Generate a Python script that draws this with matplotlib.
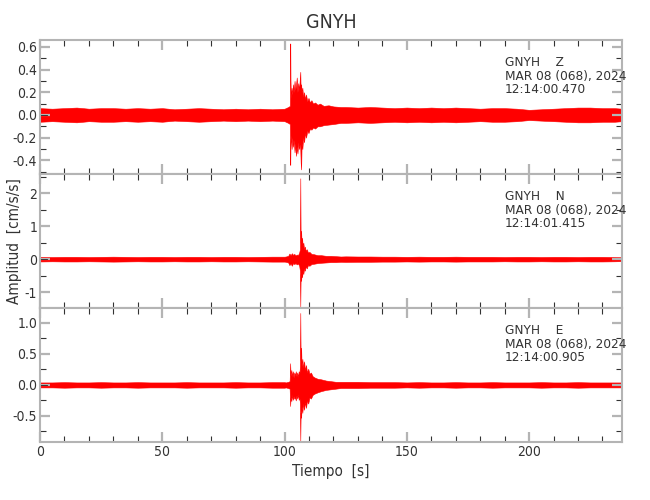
import numpy as np
import matplotlib.pyplot as plt
from matplotlib.ticker import MultipleLocator, FormatStrFormatter

plt.rcParams['font.family'] = ['DejaVu Sans']
plt.rcParams['font.stretch'] = 'condensed'

# quiet noise, sampled every 5 s before and after the event (symmetric amplitude)
t_pre = [0, 5, 10, 15, 20, 25, 30, 35, 40, 45, 50, 55, 60, 65, 70, 75, 80, 85, 90, 95, 100]
t_post = [125, 130, 135, 140, 145, 150, 155, 160, 165, 170, 175, 180, 185, 190, 195,
          200, 205, 210, 215, 220, 225, 230, 235, 238]

z_pre = [0.06, 0.055, 0.06, 0.065, 0.055, 0.06, 0.06, 0.055, 0.06, 0.055, 0.06,
         0.05, 0.055, 0.06, 0.055, 0.05, 0.055, 0.05, 0.055, 0.05, 0.055]
z_post = [0.07, 0.065, 0.07, 0.065, 0.06, 0.065, 0.06, 0.065, 0.06, 0.065, 0.06, 0.055,
          0.06, 0.06, 0.055, 0.045, 0.05, 0.055, 0.06, 0.065, 0.065, 0.06, 0.06, 0.055]
n_pre = [0.07, 0.065, 0.07, 0.07, 0.065, 0.07, 0.075, 0.07, 0.065, 0.07, 0.07,
         0.065, 0.07, 0.07, 0.065, 0.07, 0.07, 0.065, 0.07, 0.075, 0.075]
n_post = [0.085, 0.08, 0.08, 0.075, 0.075, 0.07, 0.075, 0.07, 0.07, 0.075, 0.07, 0.07,
          0.07, 0.065, 0.07, 0.07, 0.065, 0.07, 0.07, 0.065, 0.07, 0.07, 0.065, 0.06]
e_pre = [0.04, 0.04, 0.045, 0.04, 0.04, 0.045, 0.04, 0.04, 0.045, 0.04, 0.04,
         0.04, 0.045, 0.04, 0.04, 0.04, 0.045, 0.04, 0.04, 0.045, 0.045]
e_post = [0.05, 0.05, 0.045, 0.045, 0.045, 0.04, 0.045, 0.04, 0.04, 0.045, 0.04, 0.04,
          0.045, 0.04, 0.04, 0.04, 0.045, 0.04, 0.04, 0.045, 0.04, 0.04, 0.04, 0.04]

# event envelopes (upper / lower)
z_t = [100.5, 101.5, 102.2, 102.35, 102.45, 102.6, 102.9, 103.2, 103.5, 103.8, 104.1, 104.4,
       104.7, 105.0, 105.3, 105.6, 105.9, 106.2, 106.45, 106.6, 106.8, 107.0, 107.3, 107.6,
       108.0, 108.4, 108.8, 109.3, 109.8, 110.4, 111.0, 111.7, 112.5, 113.5, 114.5, 116.0,
       118.0, 120.0, 123.0]
z_hi = [0.06, 0.07, 0.08, 0.63, 0.3, 0.15, 0.24, 0.18, 0.27, 0.2, 0.3, 0.22, 0.26, 0.33,
        0.2, 0.28, 0.22, 0.3, 0.38, 0.22, 0.27, 0.2, 0.24, 0.16, 0.2, 0.14, 0.18, 0.12,
        0.15, 0.11, 0.13, 0.1, 0.11, 0.09, 0.1, 0.08, 0.085, 0.075, 0.07]
z_lo = [-0.06, -0.07, -0.08, -0.44, -0.25, -0.18, -0.3, -0.2, -0.28, -0.22, -0.33, -0.25,
        -0.36, -0.28, -0.34, -0.24, -0.3, -0.26, -0.3, -0.42, -0.48, -0.25, -0.3, -0.2,
        -0.24, -0.16, -0.2, -0.14, -0.16, -0.12, -0.13, -0.11, -0.12, -0.1, -0.1, -0.09,
        -0.085, -0.08, -0.07]

n_t = [100.5, 101.5, 102.0, 102.5, 103.0, 103.5, 104.0, 104.5, 105.0, 105.5, 106.0, 106.3,
       106.45, 106.6, 106.8, 107.0, 107.2, 107.4, 107.7, 108.0, 108.3, 108.7, 109.1, 109.6,
       110.2, 111.0, 112.0, 113.5, 115.0, 117.0, 119.0, 121.0, 123.0]
n_hi = [0.08, 0.1, 0.17, 0.12, 0.18, 0.13, 0.16, 0.11, 0.14, 0.12, 0.2, 0.3, 2.45, 0.5,
        0.86, 0.45, 0.65, 0.4, 0.5, 0.3, 0.38, 0.25, 0.3, 0.2, 0.22, 0.16, 0.15, 0.12,
        0.12, 0.1, 0.1, 0.09, 0.08]
n_lo = [-0.08, -0.1, -0.18, -0.13, -0.2, -0.12, -0.15, -0.12, -0.16, -0.13, -0.2, -0.35,
        -1.43, -0.45, -0.66, -0.4, -0.55, -0.35, -0.45, -0.28, -0.35, -0.22, -0.28, -0.18,
        -0.2, -0.15, -0.14, -0.12, -0.11, -0.1, -0.09, -0.09, -0.08]

e_t = [100.5, 101.5, 102.1, 102.3, 102.5, 102.8, 103.1, 103.4, 103.7, 104.0, 104.3, 104.6,
       104.9, 105.2, 105.5, 105.8, 106.1, 106.3, 106.45, 106.6, 106.8, 107.0, 107.3, 107.6,
       108.0, 108.4, 108.8, 109.2, 109.7, 110.2, 110.8, 111.5, 112.3, 113.5, 115.0, 117.0,
       119.0, 121.0, 123.0]
e_hi = [0.04, 0.05, 0.06, 0.35, 0.15, 0.24, 0.14, 0.22, 0.12, 0.2, 0.15, 0.22, 0.14, 0.2,
        0.13, 0.22, 0.18, 0.3, 1.16, 0.4, 0.6, 0.3, 0.42, 0.28, 0.38, 0.24, 0.32, 0.2,
        0.26, 0.18, 0.2, 0.14, 0.12, 0.1, 0.09, 0.07, 0.06, 0.05, 0.05]
e_lo = [-0.04, -0.05, -0.06, -0.34, -0.2, -0.26, -0.16, -0.24, -0.18, -0.22, -0.2, -0.25,
        -0.17, -0.22, -0.15, -0.24, -0.2, -0.3, -0.9, -0.45, -0.53, -0.35, -0.45, -0.3,
        -0.4, -0.28, -0.37, -0.25, -0.3, -0.2, -0.22, -0.16, -0.14, -0.12, -0.1, -0.08,
        -0.07, -0.06, -0.05]

comps = ['Z', 'N', 'E']
start_times = ['12:14:00.470', '12:14:01.415', '12:14:00.905']
date_str = 'MAR 08 (068), 2024'
ylims = [(-0.52, 0.66), (-1.48, 2.58), (-0.92, 1.24)]
major_steps = [0.2, 1.0, 0.5]
minor_steps = [0.1, 0.5, 0.25]
fmts = ['%.1f', '%d', '%.1f']

panels = [(z_pre, z_post, z_t, z_hi, z_lo),
          (n_pre, n_post, n_t, n_hi, n_lo),
          (e_pre, e_post, e_t, e_hi, e_lo)]

fig = plt.figure(figsize=(6.5, 5), dpi=100)
bottoms = [0.652, 0.384, 0.116]
txt_col = '#333333'
frame_col = '#b4b4b4'

for i, (pre, post, et, ehi, elo) in enumerate(panels):
    ax = fig.add_axes([0.0615, bottoms[i], 0.8954, 0.268])
    t = np.array(t_pre + et + t_post, dtype=float)
    hi = np.array(pre + ehi + post)
    lo = np.concatenate([-np.array(pre), elo, -np.array(post)])
    ax.fill_between(t, lo, hi, color='red', lw=0.4, edgecolor='red')
    ax.axhline(0, color='#222222', lw=0.6, xmax=0.012)
    ax.set_xlim(0, 238)
    ax.set_ylim(*ylims[i])
    ax.xaxis.set_major_locator(MultipleLocator(50))
    ax.xaxis.set_minor_locator(MultipleLocator(10))
    ax.yaxis.set_major_locator(MultipleLocator(major_steps[i]))
    ax.yaxis.set_minor_locator(MultipleLocator(minor_steps[i]))
    ax.yaxis.set_major_formatter(FormatStrFormatter(fmts[i]))
    for s in ax.spines.values():
        s.set_color(frame_col)
        s.set_linewidth(1.5)
    ax.tick_params(which='both', direction='in', top=True, right=True,
                   labelsize=10, labelcolor=txt_col, pad=2)
    ax.tick_params(which='major', length=7, width=1.6, color=frame_col)
    ax.tick_params(which='minor', length=4, width=0.8, color='#333333')
    if i < 2:
        ax.tick_params(labelbottom=False)
    else:
        ax.set_xlabel('Tiempo  [s]', fontsize=11, color=txt_col)
    if i == 1:
        ax.set_ylabel('Amplitud  [cm/s/s]', fontsize=11, color=txt_col, labelpad=2)
    ax.text(0.799, 0.73, 'GNYH    ' + comps[i] + '\n' + date_str + '\n' + start_times[i],
            transform=ax.transAxes, fontsize=9.7, color=txt_col, va='center',
            linespacing=1.07)

fig.text(0.51, 0.956, 'GNYH', ha='center', va='center', fontsize=14, color=txt_col)

fig.savefig('out.png', dpi=100)
